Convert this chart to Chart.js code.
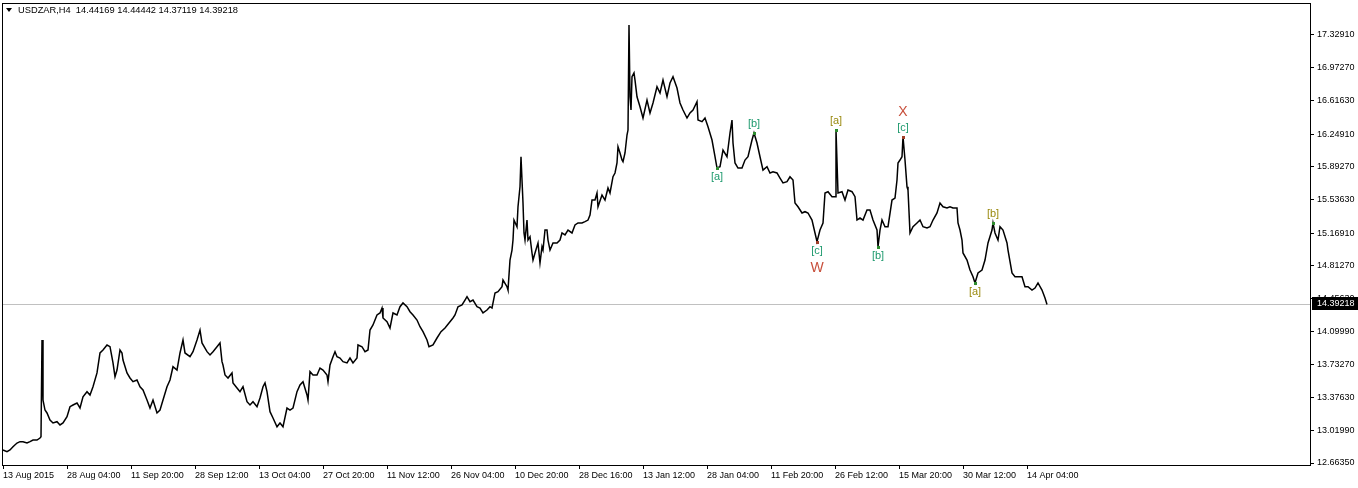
<!DOCTYPE html>
<html>
<head>
<meta charset="utf-8">
<script src="https://cdn.jsdelivr.net/npm/chart.js@4/dist/chart.umd.min.js"></script>
<style>
  html, body { margin: 0; padding: 0; background: #fff; }
  #wrap { width: 1358px; height: 488px; position: relative; }
</style>
</head>
<body>
<div id="wrap"><canvas id="c"></canvas></div>
<script>
// USDZAR H4 - precios (índice de barra desde 13 Aug 2015)
const symbolTitle = "USDZAR,H4  14.44169 14.44442 14.37119 14.39218";
const lastClose = 14.39218;

const bars = [
  0, 4, 7, 10, 14, 17, 20, 24, 27, 30, 34, 37, 38, 39, 40, 42, 44, 47, 50, 54, 57, 60,
  64, 67, 70, 74, 77, 80, 84, 87, 90, 94, 97, 100, 104, 107, 110, 112, 114, 117, 119, 120,
  124, 127, 130, 134, 137, 140, 144, 147, 150, 154, 157, 160, 164, 167, 170, 174, 177, 180,
  182, 187, 190, 194, 197, 199, 204,
  207, 210, 214, 217, 219, 220, 222, 225, 229, 230, 234, 237, 240, 244, 247, 250, 254, 257,
  260, 262, 264, 267, 270, 274, 277, 280, 284, 287, 290, 294, 297, 300, 304, 305, 307, 310,
  314, 317, 320, 324, 325, 327, 330, 332, 334, 337, 340, 344, 347, 350, 354, 355, 359, 362,
  365, 367, 370, 374, 377, 379, 380, 384, 387, 390, 394, 397, 400, 404, 407, 410, 414, 417,
  420, 424, 426, 430, 434, 438, 442, 446,
  450, 452, 455, 459, 462, 464, 467, 470, 474, 477, 480, 484, 487, 489, 492, 495, 499, 500,
  504, 505, 507, 509, 510, 511, 514, 515, 517, 518, 519, 520, 521, 522, 524, 525, 527, 529,
  530, 532, 535, 537, 539, 540, 542, 544, 545, 547, 550, 554, 557, 559, 562, 565, 569, 572,
  575, 579, 582, 585, 587, 589, 592, 594, 595, 599, 602, 605, 607, 610, 612, 614, 615, 617,
  619, 620, 622, 624, 625, 626, 627, 628, 629, 631,
  632, 634, 637, 640, 644, 647, 650, 654, 657, 660, 664, 667, 670, 674, 677, 680, 684, 687,
  690, 694, 695, 699, 702, 705, 709, 712, 714, 717, 720, 724, 727, 729, 730, 732, 735, 739,
  742, 745, 749, 751, 754, 757, 760, 764, 767, 770, 774, 777, 780, 784, 787, 790, 792, 795,
  799, 802, 805, 809, 812, 814, 817, 820, 822, 825, 829, 832, 833, 835, 839,
  842, 845, 849, 852, 854, 857, 860, 864, 867, 870, 874, 875, 877, 879, 882, 885, 889, 892,
  894, 895, 897, 899, 900, 902, 904, 905, 907, 910, 914, 917, 920, 924, 927, 930, 934, 937,
  940, 944, 947, 950, 954, 955, 957, 959, 960, 964, 967, 970, 972, 975, 979, 982, 985, 989,
  990, 992, 995, 997, 1000, 1004, 1005, 1009, 1012, 1015, 1019, 1022, 1025, 1029, 1032, 1035,
  1039, 1042, 1044
];

const closes = [
  12.805, 12.787, 12.805, 12.841, 12.881, 12.896, 12.896, 12.881, 12.896, 12.914, 12.914, 12.936, 12.950, 14.004, 13.350, 13.241, 13.209, 13.132, 13.100, 13.114, 13.078, 13.100,
  13.168, 13.277, 13.296, 13.318, 13.263, 13.386, 13.441, 13.405, 13.495, 13.645, 13.863, 13.895, 13.950, 13.931, 13.754, 13.604, 13.677, 13.895, 13.863, 13.786,
  13.645, 13.590, 13.550, 13.568, 13.495, 13.459, 13.350, 13.263, 13.350, 13.209, 13.241, 13.350, 13.495, 13.568, 13.713, 13.677, 13.863, 14.004,
  13.863, 13.822, 13.877, 14.004, 14.113, 13.972, 13.877,
  13.841, 13.877, 13.931, 13.972, 13.768, 13.732, 13.623, 13.590, 13.645, 13.536, 13.481, 13.441, 13.495, 13.332, 13.296, 13.332, 13.277, 13.372,
  13.495, 13.536, 13.441, 13.223, 13.154, 13.059, 13.100, 13.059, 13.263, 13.241, 13.263, 13.441, 13.514, 13.550, 13.405, 13.350, 13.659, 13.623,
  13.623, 13.699, 13.677, 13.623, 13.550, 13.732, 13.822, 13.877, 13.822, 13.808, 13.768, 13.754, 13.808, 13.754, 13.808, 13.950, 13.931, 13.877,
  13.895, 14.113, 14.168, 14.277, 14.299, 14.353, 14.244, 14.204, 14.135, 14.299, 14.277, 14.367, 14.408, 14.367, 14.313, 14.277, 14.222, 14.149,
  14.095, 14.004, 13.931, 13.950, 14.026, 14.095, 14.135, 14.190,
  14.244, 14.277, 14.367, 14.386, 14.440, 14.476, 14.422, 14.440, 14.367, 14.353, 14.299, 14.331, 14.367, 14.353, 14.517, 14.531, 14.585, 14.658,
  14.585, 14.549, 14.876, 14.985, 15.094, 15.312, 15.239, 15.457, 15.675, 16.002, 15.748, 15.498, 15.171, 15.094, 15.312, 15.094, 15.130, 14.953,
  14.876, 14.953, 15.062, 14.844, 15.021, 14.985, 15.203, 15.203, 15.094, 14.985, 15.062, 15.062, 15.094, 15.171, 15.149, 15.203, 15.171, 15.258,
  15.280, 15.280, 15.294, 15.312, 15.367, 15.530, 15.530, 15.607, 15.457, 15.585, 15.530, 15.661, 15.607, 15.784, 15.825, 15.934, 16.111, 16.043,
  15.966, 15.948, 16.043, 16.239, 16.293, 17.438, 16.656, 16.511, 16.874, 16.915,
  16.838, 16.656, 16.547, 16.424, 16.620, 16.479, 16.588, 16.765, 16.697, 16.838, 16.656, 16.806, 16.874, 16.751, 16.588, 16.511, 16.424, 16.479,
  16.511, 16.602, 16.402, 16.384, 16.424, 16.329, 16.184, 16.002, 15.879, 15.893, 16.075, 16.002, 16.261, 16.402, 16.152, 15.934, 15.879, 15.879,
  15.966, 16.002, 16.184, 16.261, 16.152, 16.002, 15.857, 15.893, 15.825, 15.839, 15.825, 15.770, 15.716, 15.730, 15.784, 15.748, 15.498, 15.457,
  15.389, 15.403, 15.389, 15.312, 15.171, 15.076, 15.203, 15.280, 15.607, 15.621, 15.566, 15.566, 16.293, 15.607, 15.621,
  15.530, 15.639, 15.621, 15.566, 15.312, 15.334, 15.312, 15.421, 15.421, 15.312, 15.203, 15.021, 15.203, 15.312, 15.239, 15.239, 15.530, 15.552,
  15.748, 15.934, 15.966, 16.002, 16.220, 15.966, 15.675, 15.639, 15.171, 15.239, 15.280, 15.312, 15.239, 15.225, 15.239, 15.312, 15.389, 15.498,
  15.457, 15.443, 15.457, 15.443, 15.443, 15.280, 15.203, 15.094, 14.953, 14.876, 14.767, 14.694, 14.626, 14.735, 14.767, 14.876, 15.062, 15.203,
  15.280, 15.171, 15.094, 15.239, 15.203, 15.062, 14.985, 14.735, 14.694, 14.694, 14.694, 14.585, 14.585, 14.549, 14.571, 14.626,
  14.549, 14.462, 14.39218
];

// eje de tiempo
const xTickBars = [0, 64, 128, 192, 256, 320, 384, 448, 512, 576, 640, 704, 768, 832, 896, 960, 1024];
const xTickLabels = ["13 Aug 2015", "28 Aug 04:00", "11 Sep 20:00", "28 Sep 12:00", "13 Oct 04:00",
  "27 Oct 20:00", "11 Nov 12:00", "26 Nov 04:00", "10 Dec 20:00", "28 Dec 16:00", "13 Jan 12:00",
  "28 Jan 04:00", "11 Feb 20:00", "26 Feb 12:00", "15 Mar 20:00", "30 Mar 12:00", "14 Apr 04:00"];

// eje de precios
const yTickValues = [17.3291, 16.9727, 16.6163, 16.2491, 15.8927, 15.5363, 15.1691,
  14.8127, 14.4563, 14.0999, 13.7327, 13.3763, 13.0199, 12.6635];

// ondas de Elliott: texto, barra, precio del pivote, arriba/abajo
const waveText  = ["[a]", "[b]", "[c]", "[a]", "[b]", "[c]", "[a]", "[b]"];
const waveBar   = [714, 751, 814, 833, 875, 900, 972, 990];
const wavePrice = [15.879, 16.261, 15.076, 16.293, 15.021, 16.220, 14.626, 15.280];
const waveUp    = [false, true, false, true, false, true, false, true];
const waveColor = ["#1e9a6e", "#1e9a6e", "#1e9a6e", "#9a8a10", "#1e9a6e", "#1e9a6e", "#9a8a10", "#9a8a10"];
const waveDot   = ["#2e8b2e", "#2e8b2e", "#a0402a", "#2e8b2e", "#2e8b2e", "#a0402a", "#2e8b2e", "#2e8b2e"];
// etiquetas de grado mayor (W, X)
const degreeText = ["W", "X"];
const degreeIdx  = [2, 5];

const FONT = "Liberation Sans";

const mtPlugin = {
  id: "mt",
  beforeDatasetsDraw(chart) {
    const { ctx, chartArea, scales } = chart;
    const y = Math.round(scales.y.getPixelForValue(lastClose)) + 0.5;
    ctx.save();
    ctx.strokeStyle = "#c0c0c0";
    ctx.lineWidth = 1;
    ctx.beginPath();
    ctx.moveTo(chartArea.left, y);
    ctx.lineTo(chartArea.right, y);
    ctx.stroke();
    ctx.restore();
  },
  afterDraw(chart) {
    const { ctx, chartArea, scales } = chart;
    ctx.save();
    // marco
    ctx.strokeStyle = "#000";
    ctx.lineWidth = 1;
    ctx.strokeRect(chartArea.left + 0.5, chartArea.top + 0.5,
      chartArea.right - chartArea.left, chartArea.bottom - chartArea.top);

    // título
    ctx.fillStyle = "#000";
    ctx.beginPath();
    ctx.moveTo(6, 8); ctx.lineTo(12, 8); ctx.lineTo(9, 12); ctx.closePath();
    ctx.fill();
    ctx.font = "9.3px '" + FONT + "'";
    ctx.textBaseline = "middle";
    ctx.textAlign = "left";
    ctx.fillText(symbolTitle, 18, 10.5);

    // ondas
    for (let i = 0; i < waveText.length; i++) {
      const px = scales.x.getPixelForValue(waveBar[i]);
      const py = scales.y.getPixelForValue(wavePrice[i]);
      ctx.fillStyle = waveDot[i];
      ctx.fillRect(Math.round(px) - 1, Math.round(py) - 1, 3, 3);
      ctx.fillStyle = waveColor[i];
      ctx.font = "11px '" + FONT + "'";
      ctx.textAlign = "center";
      ctx.textBaseline = "middle";
      ctx.fillText(waveText[i], px, waveUp[i] ? py - 9 : py + 9);
    }
    ctx.fillStyle = "#c8503c";
    ctx.font = "14px '" + FONT + "'";
    for (let k = 0; k < degreeText.length; k++) {
      const i = degreeIdx[k];
      const px = scales.x.getPixelForValue(waveBar[i]);
      const py = scales.y.getPixelForValue(wavePrice[i]);
      ctx.fillText(degreeText[k], px, waveUp[i] ? py - 25 : py + 26);
    }

    // etiqueta de último precio
    const ly = Math.round(scales.y.getPixelForValue(lastClose));
    ctx.fillStyle = "#000";
    ctx.fillRect(chartArea.right + 2, ly - 7, 46, 13);
    ctx.fillStyle = "#fff";
    ctx.font = "9px '" + FONT + "'";
    ctx.textAlign = "left";
    ctx.fillText(lastClose.toFixed(5), chartArea.right + 7, ly);
    ctx.restore();
  }
};

const ctx = document.getElementById("c").getContext("2d");
const chart = new Chart(ctx, {
  type: "line",
  data: {
    datasets: [{
      data: bars.map((b, i) => ({ x: b, y: closes[i] })),
      borderColor: "#000",
      borderWidth: 1.5,
      pointRadius: 0,
      tension: 0,
      fill: false
    }]
  },
  options: {
    responsive: true,
    maintainAspectRatio: false,
    animation: false,
    layout: { padding: { left: 2, top: 3, right: 0, bottom: 0 } },
    plugins: { legend: { display: false }, tooltip: { enabled: false } },
    scales: {
      x: {
        type: "linear",
        position: "bottom",
        min: -1,
        max: 1307,
        afterBuildTicks: (s) => { s.ticks = xTickBars.map(v => ({ value: v })); },
        afterFit: (s) => { s.height = 23; s.paddingLeft = 0; s.paddingRight = 0; },
        ticks: {
          autoSkip: false,
          maxRotation: 0,
          align: "start",
          padding: 1,
          color: "#000",
          font: { family: FONT, size: 9 },
          callback: (v) => xTickLabels[xTickBars.indexOf(v)]
        },
        grid: { drawOnChartArea: false, drawTicks: true, tickLength: 4, color: "#000" },
        border: { display: true, color: "#000" }
      },
      y: {
        type: "linear",
        position: "right",
        min: 12.6417,
        max: 17.6779,
        afterBuildTicks: (s) => { s.ticks = yTickValues.map(v => ({ value: v })); },
        afterFit: (s) => { s.width = 48; s.paddingTop = 0; s.paddingBottom = 0; },
        ticks: {
          autoSkip: false,
          padding: 3,
          color: "#000",
          font: { family: FONT, size: 9 },
          callback: (v) => v.toFixed(5)
        },
        grid: { drawOnChartArea: false, drawTicks: true, tickLength: 4, color: "#000" },
        border: { display: true, color: "#000" }
      }
    }
  },
  plugins: [mtPlugin]
});
</script>
</body>
</html>
